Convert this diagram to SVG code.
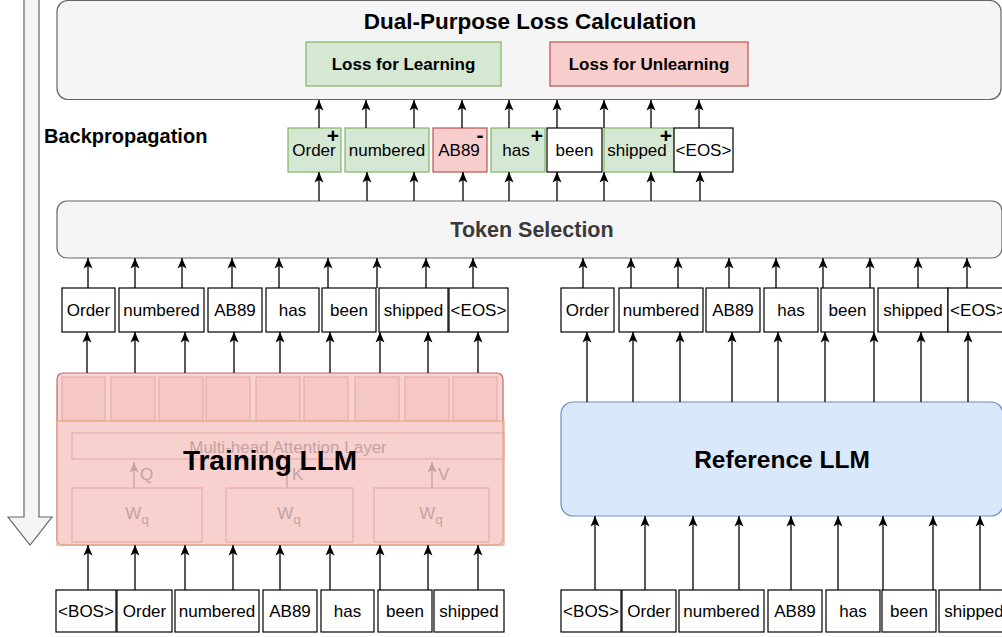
<svg xmlns="http://www.w3.org/2000/svg" width="1002" height="637" viewBox="0 0 1002 637">
<style>
  text { font-family: "Liberation Sans", Arial, sans-serif; }
  .tok rect { fill: #ffffff; stroke: #000000; stroke-width: 1.2; }
  .tok text { font-size: 17px; text-anchor: middle; fill: #000; }
  .g rect { fill: #d5e8d4; stroke: #82b366; }
  .r rect { fill: #f8cecc; stroke: #b85450; }
  .conn line { stroke: #000; stroke-width: 1.3; marker-end: url(#ah); }
  .tok text.pm { font-size: 21px; font-weight: bold; text-anchor: middle; fill: #000; }
  .sq { fill: #f5c8c6; stroke: #e2a6a4; stroke-width: 1; }
  .faint { fill: none; stroke: #e2a6a4; stroke-width: 1; }
  .ftxt { fill: #c4a2a1; font-size: 17px; }
</style>
<defs>
  <marker id="ah" markerUnits="userSpaceOnUse" markerWidth="11" markerHeight="11" viewBox="0 0 11 11" refX="11" refY="5.5" orient="auto">
    <path d="M0.5,1 L11,5.5 L0.5,10 L3,5.5 z" fill="#000"/>
  </marker>
  <marker id="ahg" markerUnits="userSpaceOnUse" markerWidth="11" markerHeight="11" viewBox="0 0 11 11" refX="11" refY="5.5" orient="auto">
    <path d="M0.5,1 L11,5.5 L0.5,10 L3,5.5 z" fill="#c4a2a1"/>
  </marker>
</defs>
<rect width="1002" height="637" fill="#ffffff"/>

<!-- Backpropagation big arrow -->
<g id="backprop-arrow">
  <polygon points="24,-2 39,-2 39,517 52,517 30,545 8,517 24,517" fill="#f5f5f5" stroke="#666666" stroke-width="1.2"/>
</g>
<g id="backprop-label">
  <text x="44" y="143" font-size="20" font-weight="bold">Backpropagation</text>
</g>

<!-- Dual purpose loss -->
<g id="loss-calc">
  <rect x="57" y="0.5" width="944" height="99" rx="11" fill="#f5f5f5" stroke="#666666" stroke-width="1.2"/>
  <text x="530" y="29" font-size="22.5" font-weight="bold" text-anchor="middle">Dual-Purpose Loss Calculation</text>
</g>
<g id="loss-learning">
  <rect x="306" y="42" width="195" height="44" fill="#d5e8d4" stroke="#82b366" stroke-width="1.2"/>
  <text x="403.5" y="70" font-size="17" font-weight="bold" text-anchor="middle">Loss for Learning</text>
</g>
<g id="loss-unlearning">
  <rect x="550" y="42" width="198" height="44" fill="#f8cecc" stroke="#b85450" stroke-width="1.2"/>
  <text x="649" y="70" font-size="17" font-weight="bold" text-anchor="middle">Loss for Unlearning</text>
</g>

<!-- Token selection -->
<g id="token-selection">
  <rect x="57" y="201" width="945" height="57" rx="10" fill="#f5f5f5" stroke="#666666" stroke-width="1.2"/>
  <text x="532" y="237" font-size="21.5" font-weight="bold" text-anchor="middle" fill="#3a3a3a">Token Selection</text>
</g>

<!-- Selected tokens row -->
<g id="sel-order" class="tok g"><rect x="288" y="128" width="53" height="44"/><text x="314" y="156">Order</text><text class="pm" x="333" y="143">+</text></g>
<g id="sel-numbered" class="tok g"><rect x="345" y="128" width="84" height="44"/><text x="387" y="156">numbered</text></g>
<g id="sel-ab89" class="tok r"><rect x="433" y="128" width="54" height="44"/><text x="459" y="156">AB89</text><text class="pm" x="480" y="142">-</text></g>
<g id="sel-has" class="tok g"><rect x="491" y="128" width="54" height="44"/><text x="516" y="156">has</text><text class="pm" x="537" y="143">+</text></g>
<g id="sel-been" class="tok"><rect x="547" y="128" width="55" height="44"/><text x="574.5" y="156">been</text></g>
<g id="sel-shipped" class="tok g"><rect x="604" y="128" width="70" height="44"/><text x="637" y="156">shipped</text><text class="pm" x="666" y="143">+</text></g>
<g id="sel-eos" class="tok"><rect x="674" y="128" width="59" height="44"/><text x="703.5" y="156">&lt;EOS&gt;</text></g>

<!-- Training LLM output tokens -->
<g id="tr-out-order" class="tok"><rect x="62" y="288" width="53" height="44"/><text x="88.5" y="316">Order</text></g>
<g id="tr-out-numbered" class="tok"><rect x="119" y="288" width="85" height="44"/><text x="161.5" y="316">numbered</text></g>
<g id="tr-out-ab89" class="tok"><rect x="208" y="288" width="54" height="44"/><text x="235" y="316">AB89</text></g>
<g id="tr-out-has" class="tok"><rect x="266" y="288" width="53" height="44"/><text x="292.5" y="316">has</text></g>
<g id="tr-out-been" class="tok"><rect x="322" y="288" width="54" height="44"/><text x="349" y="316">been</text></g>
<g id="tr-out-shipped" class="tok"><rect x="379" y="288" width="69" height="44"/><text x="413.5" y="316">shipped</text></g>
<g id="tr-out-eos" class="tok"><rect x="449" y="288" width="59" height="44"/><text x="478.5" y="316">&lt;EOS&gt;</text></g>

<!-- Reference LLM output tokens -->
<g id="ref-out-order" class="tok"><rect x="561" y="288" width="53" height="44"/><text x="587.5" y="316">Order</text></g>
<g id="ref-out-numbered" class="tok"><rect x="619" y="288" width="84" height="44"/><text x="661" y="316">numbered</text></g>
<g id="ref-out-ab89" class="tok"><rect x="706" y="288" width="54" height="44"/><text x="733" y="316">AB89</text></g>
<g id="ref-out-has" class="tok"><rect x="764" y="288" width="54" height="44"/><text x="791" y="316">has</text></g>
<g id="ref-out-been" class="tok"><rect x="821" y="288" width="53" height="44"/><text x="847.5" y="316">been</text></g>
<g id="ref-out-shipped" class="tok"><rect x="878" y="288" width="70" height="44"/><text x="913" y="316">shipped</text></g>
<g id="ref-out-eos" class="tok"><rect x="948" y="288" width="60" height="44"/><text x="978" y="316">&lt;EOS&gt;</text></g>

<!-- Training LLM -->
<g id="training-llm">
  <rect x="57" y="373" width="446" height="172" rx="6" fill="#f8d2d0" stroke="#c46a66" stroke-width="1.2"/>
  <rect class="sq" x="62" y="377" width="43" height="44"/>
  <rect class="sq" x="111" y="377" width="44" height="44"/>
  <rect class="sq" x="159" y="377" width="44" height="44"/>
  <rect class="sq" x="206" y="377" width="44" height="44"/>
  <rect class="sq" x="256" y="377" width="44" height="44"/>
  <rect class="sq" x="304" y="377" width="44" height="44"/>
  <rect class="sq" x="355" y="377" width="44" height="44"/>
  <rect class="sq" x="405" y="377" width="44" height="44"/>
  <rect class="sq" x="453" y="377" width="44" height="44"/>
  <rect x="57" y="421" width="447" height="124" fill="#f8cecc" fill-opacity="0.55" stroke="#e5a87e" stroke-width="1.2"/>
  <rect class="faint" x="72" y="433" width="432" height="26"/>
  <text class="ftxt" x="288" y="453" text-anchor="middle">Multi-head Attention Layer</text>
  <line x1="134" y1="488" x2="134" y2="462" stroke="#c4a2a1" stroke-width="1.3" marker-end="url(#ahg)"/>
  <text class="ftxt" x="140" y="480">Q</text>
  <line x1="287" y1="488" x2="287" y2="462" stroke="#c4a2a1" stroke-width="1.3" marker-end="url(#ahg)"/>
  <text class="ftxt" x="292" y="480">K</text>
  <line x1="432" y1="488" x2="432" y2="462" stroke="#c4a2a1" stroke-width="1.3" marker-end="url(#ahg)"/>
  <text class="ftxt" x="438" y="480">V</text>
  <rect class="faint" x="72" y="488" width="130" height="54"/>
  <text class="ftxt" x="137" y="519" text-anchor="middle" font-size="18">W<tspan font-size="13" dy="5">q</tspan></text>
  <rect class="faint" x="226" y="488" width="127" height="54"/>
  <text class="ftxt" x="289" y="519" text-anchor="middle" font-size="18">W<tspan font-size="13" dy="5">q</tspan></text>
  <rect class="faint" x="374" y="488" width="115" height="54"/>
  <text class="ftxt" x="431" y="519" text-anchor="middle" font-size="18">W<tspan font-size="13" dy="5">q</tspan></text>
  <text x="270" y="470" font-size="28" font-weight="bold" text-anchor="middle">Training LLM</text>
</g>

<!-- Reference LLM -->
<g id="reference-llm">
  <rect x="561" y="402" width="442" height="114" rx="12" fill="#dae8fc" stroke="#6c8ebf" stroke-width="1.2"/>
  <text x="782" y="468" font-size="24.5" font-weight="bold" text-anchor="middle">Reference LLM</text>
</g>

<!-- Input tokens, training -->
<g id="tr-in-bos" class="tok"><rect x="56" y="590" width="60" height="42"/><text x="86" y="617">&lt;BOS&gt;</text></g>
<g id="tr-in-order" class="tok"><rect x="117" y="590" width="55" height="42"/><text x="144.5" y="617">Order</text></g>
<g id="tr-in-numbered" class="tok"><rect x="175" y="590" width="84" height="42"/><text x="217" y="617">numbered</text></g>
<g id="tr-in-ab89" class="tok"><rect x="263" y="590" width="54" height="42"/><text x="290" y="617">AB89</text></g>
<g id="tr-in-has" class="tok"><rect x="321" y="590" width="53" height="42"/><text x="347.5" y="617">has</text></g>
<g id="tr-in-been" class="tok"><rect x="378" y="590" width="54" height="42"/><text x="405" y="617">been</text></g>
<g id="tr-in-shipped" class="tok"><rect x="434" y="590" width="70" height="42"/><text x="469" y="617">shipped</text></g>

<!-- Input tokens, reference -->
<g id="ref-in-bos" class="tok"><rect x="561" y="590" width="60" height="42"/><text x="591" y="617">&lt;BOS&gt;</text></g>
<g id="ref-in-order" class="tok"><rect x="622" y="590" width="54" height="42"/><text x="649" y="617">Order</text></g>
<g id="ref-in-numbered" class="tok"><rect x="679" y="590" width="85" height="42"/><text x="721.5" y="617">numbered</text></g>
<g id="ref-in-ab89" class="tok"><rect x="768" y="590" width="54" height="42"/><text x="795" y="617">AB89</text></g>
<g id="ref-in-has" class="tok"><rect x="826" y="590" width="54" height="42"/><text x="853" y="617">has</text></g>
<g id="ref-in-been" class="tok"><rect x="882" y="590" width="54" height="42"/><text x="909" y="617">been</text></g>
<g id="ref-in-shipped" class="tok"><rect x="939" y="590" width="70" height="42"/><text x="974" y="617">shipped</text></g>

<!-- Connectors -->
<g id="connectors" class="conn">
  <line x1="319" y1="128" x2="319" y2="100"/>
  <line x1="366" y1="128" x2="366" y2="100"/>
  <line x1="414" y1="128" x2="414" y2="100"/>
  <line x1="462" y1="128" x2="462" y2="100"/>
  <line x1="509" y1="128" x2="509" y2="100"/>
  <line x1="557" y1="128" x2="557" y2="100"/>
  <line x1="604" y1="128" x2="604" y2="100"/>
  <line x1="651" y1="128" x2="651" y2="100"/>
  <line x1="699" y1="128" x2="699" y2="100"/>
  <line x1="319" y1="201" x2="319" y2="172"/>
  <line x1="367" y1="201" x2="367" y2="172"/>
  <line x1="414" y1="201" x2="414" y2="172"/>
  <line x1="463" y1="201" x2="463" y2="172"/>
  <line x1="509" y1="201" x2="509" y2="172"/>
  <line x1="557" y1="201" x2="557" y2="172"/>
  <line x1="604" y1="201" x2="604" y2="172"/>
  <line x1="651" y1="201" x2="651" y2="172"/>
  <line x1="700" y1="201" x2="700" y2="172"/>
  <line x1="88" y1="288" x2="88" y2="258"/>
  <line x1="135" y1="288" x2="135" y2="258"/>
  <line x1="182" y1="288" x2="182" y2="258"/>
  <line x1="232" y1="288" x2="232" y2="258"/>
  <line x1="279" y1="288" x2="279" y2="258"/>
  <line x1="328" y1="288" x2="328" y2="258"/>
  <line x1="377" y1="288" x2="377" y2="258"/>
  <line x1="426" y1="288" x2="426" y2="258"/>
  <line x1="473" y1="288" x2="473" y2="258"/>
  <line x1="583" y1="288" x2="583" y2="258"/>
  <line x1="631" y1="288" x2="631" y2="258"/>
  <line x1="678" y1="288" x2="678" y2="258"/>
  <line x1="729" y1="288" x2="729" y2="258"/>
  <line x1="776" y1="288" x2="776" y2="258"/>
  <line x1="823" y1="288" x2="823" y2="258"/>
  <line x1="870" y1="288" x2="870" y2="258"/>
  <line x1="918" y1="288" x2="918" y2="258"/>
  <line x1="967" y1="288" x2="967" y2="258"/>
  <line x1="87" y1="373" x2="87" y2="332"/>
  <line x1="135" y1="373" x2="135" y2="332"/>
  <line x1="185" y1="373" x2="185" y2="332"/>
  <line x1="234" y1="373" x2="234" y2="332"/>
  <line x1="280" y1="373" x2="280" y2="332"/>
  <line x1="330" y1="373" x2="330" y2="332"/>
  <line x1="380" y1="373" x2="380" y2="332"/>
  <line x1="428" y1="373" x2="428" y2="332"/>
  <line x1="478" y1="373" x2="478" y2="332"/>
  <line x1="587" y1="402" x2="587" y2="332"/>
  <line x1="633" y1="402" x2="633" y2="332"/>
  <line x1="680" y1="402" x2="680" y2="332"/>
  <line x1="732" y1="402" x2="732" y2="332"/>
  <line x1="778" y1="402" x2="778" y2="332"/>
  <line x1="825" y1="402" x2="825" y2="332"/>
  <line x1="874" y1="402" x2="874" y2="332"/>
  <line x1="921" y1="402" x2="921" y2="332"/>
  <line x1="968" y1="402" x2="968" y2="332"/>
  <line x1="88" y1="590" x2="88" y2="545"/>
  <line x1="135" y1="590" x2="135" y2="545"/>
  <line x1="185" y1="590" x2="185" y2="545"/>
  <line x1="233" y1="590" x2="233" y2="545"/>
  <line x1="280" y1="590" x2="280" y2="545"/>
  <line x1="330" y1="590" x2="330" y2="545"/>
  <line x1="380" y1="590" x2="380" y2="545"/>
  <line x1="428" y1="590" x2="428" y2="545"/>
  <line x1="478" y1="590" x2="478" y2="545"/>
  <line x1="595" y1="590" x2="595" y2="516"/>
  <line x1="645" y1="590" x2="645" y2="516"/>
  <line x1="693" y1="590" x2="693" y2="516"/>
  <line x1="739" y1="590" x2="739" y2="516"/>
  <line x1="791" y1="590" x2="791" y2="516"/>
  <line x1="838" y1="590" x2="838" y2="516"/>
  <line x1="883" y1="590" x2="883" y2="516"/>
  <line x1="933" y1="590" x2="933" y2="516"/>
  <line x1="980" y1="590" x2="980" y2="516"/>
</g>
</svg>
